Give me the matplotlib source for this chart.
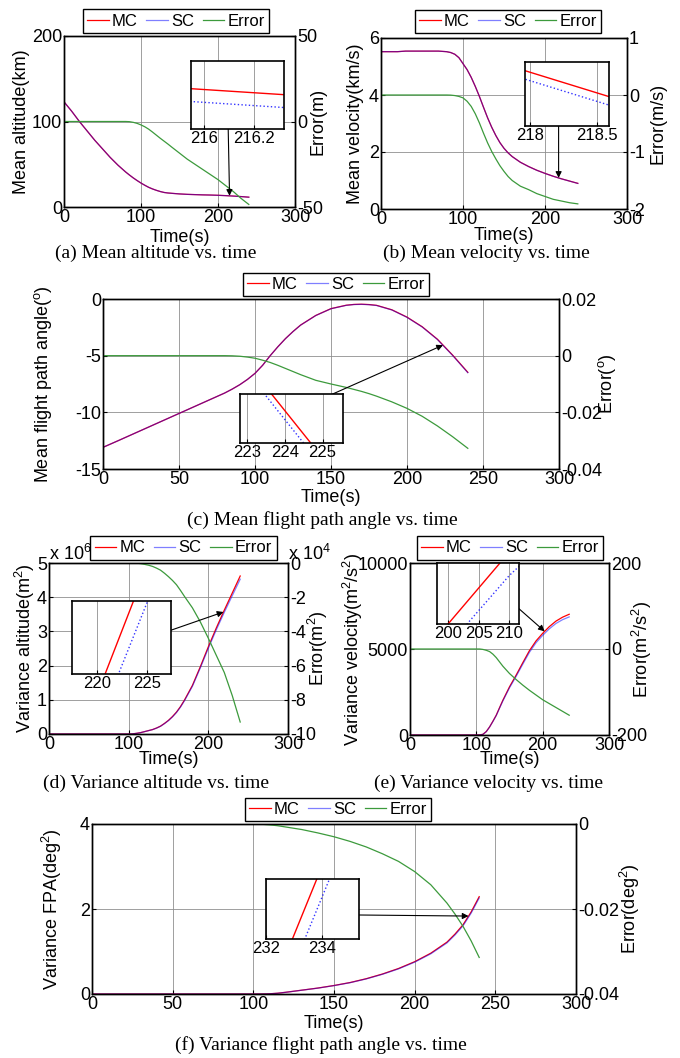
import numpy as np
import matplotlib
matplotlib.use("Agg")
import matplotlib.pyplot as plt

plt.rcParams['font.family'] = ['Liberation Sans', 'DejaVu Sans']
plt.rcParams['mathtext.default'] = 'regular'
plt.rcParams['axes.unicode_minus'] = False

# ---------------- data ----------------
# (a) mean altitude [km], error [m]
t_a = [0, 10, 20, 30, 40, 50, 60, 70, 80, 85, 90, 95, 100, 105, 110, 115, 120, 125,
       130, 135, 140, 150, 160, 170, 180, 190, 200, 210, 220, 230, 240]
alt_mc = [123, 112, 100, 89, 78, 68, 58, 49, 41, 37.4, 34, 30.9, 28, 25.4, 23, 21.1,
          19.5, 18.1, 17, 16.4, 16, 15.3, 14.8, 14.5, 14.2, 14.0, 13.7, 13.3, 12.8,
          12.2, 11.5]
alt_sc = [123, 112, 100, 89, 78, 68, 58, 49, 41, 37.3999, 33.9995, 30.8989, 27.998,
          25.3969, 22.9955, 21.0938, 19.492, 18.0902, 16.9885, 16.3868, 15.985,
          15.2815, 14.778, 14.475, 14.172, 13.969, 13.666, 13.2625, 12.759, 12.155,
          11.4515]
alt_err = [0, 0, 0, 0, 0, 0, 0, 0, 0, -0.1, -0.5, -1.1, -2, -3.1, -4.5, -6.2, -8,
           -9.8, -11.5, -13.2, -15, -18.5, -22, -25, -28, -31, -34, -37.5, -41, -45,
           -48.5]

# (b) mean velocity [km/s], error [m/s]
t_b = [0, 10, 20, 30, 40, 50, 60, 70, 80, 85, 90, 95, 100, 105, 110, 115, 120, 125,
       130, 135, 140, 145, 150, 155, 160, 170, 180, 190, 200, 210, 220, 230, 240]
vel_mc = [5.52, 5.52, 5.52, 5.54, 5.54, 5.54, 5.54, 5.54, 5.52, 5.49, 5.43, 5.31,
          5.10, 4.89, 4.62, 4.30, 3.95, 3.57, 3.20, 2.87, 2.58, 2.33, 2.13, 1.97,
          1.84, 1.64, 1.49, 1.36, 1.25, 1.15, 1.06, 0.98, 0.90]
vel_sc = [5.52, 5.52, 5.52, 5.54, 5.54, 5.54, 5.54, 5.54, 5.52, 5.489998, 5.42999,
          5.309975, 5.09995, 4.88989, 4.6198, 4.29967, 3.94951, 3.56933, 3.19916,
          2.86901, 2.57888, 2.32876, 2.12866, 1.96857, 1.8385, 1.6384, 1.48834,
          1.35827, 1.24822, 1.14817, 1.05814, 0.97811, 0.89809]
vel_err = [0, 0, 0, 0, 0, 0, 0, 0, 0, -0.002, -0.01, -0.025, -0.05, -0.11, -0.2,
           -0.33, -0.49, -0.67, -0.84, -0.99, -1.12, -1.24, -1.34, -1.43, -1.5, -1.6,
           -1.66, -1.73, -1.78, -1.83, -1.86, -1.89, -1.91]

# (c) mean flight path angle [deg], error [deg]
t_c = [0, 10, 20, 30, 40, 50, 60, 70, 80, 85, 90, 95, 100, 105, 110, 115, 120, 125,
       130, 140, 150, 160, 165, 170, 175, 180, 190, 200, 210, 220, 230, 240]
fpa_mc = [-13.09, -12.5, -11.9, -11.3, -10.7, -10.1, -9.5, -8.9, -8.3, -7.95, -7.56,
          -7.1, -6.56, -5.85, -5.0, -4.22, -3.5, -2.87, -2.3, -1.45, -0.85, -0.55,
          -0.48, -0.46, -0.49, -0.56, -0.95, -1.6, -2.45, -3.55, -4.95, -6.47]
fpa_sc = [-13.09, -12.5, -11.9, -11.3, -10.7, -10.1, -9.5, -8.9, -8.3, -7.95005,
          -7.5602, -7.1005, -6.5609, -5.8516, -5.0024, -4.2234, -3.5045, -2.8756,
          -2.3067, -1.4587, -0.86, -0.5612, -0.4919, -0.4726, -0.5034, -0.5743,
          -0.9663, -1.6186, -2.4714, -3.5748, -4.9786, -6.5027]
fpa_err = [0, 0, 0, 0, 0, 0, 0, 0, 0, -0.00005, -0.0002, -0.0005, -0.0009, -0.0016,
           -0.0024, -0.0034, -0.0045, -0.0056, -0.0067, -0.0087, -0.0100, -0.0112,
           -0.0119, -0.0126, -0.0134, -0.0143, -0.0163, -0.0186, -0.0214, -0.0248,
           -0.0286, -0.0327]

# (d) variance altitude [x1e6 m^2], error [x1e4 m^2]
t_d = [0, 10, 20, 30, 40, 50, 60, 70, 80, 90, 100, 105, 110, 115, 120, 125, 130, 135,
       140, 145, 150, 155, 160, 165, 170, 180, 190, 200, 210, 220, 230, 240]
valt_mc = [0, 0, 0, 0, 0, 0, 0, 0, 0, 0, 0, 0.005, 0.02, 0.04, 0.07, 0.10, 0.13,
           0.175, 0.23, 0.31, 0.40, 0.51, 0.64, 0.80, 0.99, 1.42, 1.97, 2.55, 3.10,
           3.62, 4.12, 4.62]
valt_sc = [0, 0, 0, 0, 0, 0, 0, 0, 0, 0, 0, 0.00498, 0.0199, 0.03965, 0.0692, 0.0987,
           0.128, 0.172, 0.2258, 0.304, 0.392, 0.4998, 0.6273, 0.784, 0.9705, 1.3938,
           1.9355, 2.506, 3.046, 3.556, 4.0425, 4.527]
valt_err = [0, 0, 0, 0, 0, 0, 0, 0, 0, 0, 0, -0.002, -0.01, -0.035, -0.08, -0.13,
            -0.2, -0.3, -0.42, -0.6, -0.8, -1.02, -1.27, -1.6, -1.95, -2.62, -3.45,
            -4.4, -5.4, -6.4, -7.75, -9.3]

# (e) variance velocity [m^2/s^2], error [m^2/s^2]
t_e = [0, 10, 20, 30, 40, 50, 60, 70, 80, 90, 100, 105, 110, 115, 120, 125, 130, 135,
       140, 150, 160, 170, 180, 190, 200, 210, 220, 230, 240]
vvel_mc = [0, 0, 0, 0, 0, 0, 0, 0, 0, 0, 0, 5, 40, 200, 470, 800, 1150, 1590, 2020,
           2800, 3480, 4200, 4900, 5470, 5910, 6300, 6620, 6850, 7020]
vvel_sc = [0, 0, 0, 0, 0, 0, 0, 0, 0, 0, 0, 5, 39, 197, 464, 788, 1130, 1560, 1980,
           2743, 3409, 4116, 4804, 5363, 5792, 6173, 6484, 6705, 6866]
vvel_err = [0, 0, 0, 0, 0, 0, 0, 0, 0, 0, 0, 0, -1, -3, -6, -12, -20, -30, -40, -57,
            -71, -84, -96, -107, -118, -127, -136, -145, -154]

# (f) variance FPA [deg^2], error [deg^2]
t_f = [0, 10, 20, 30, 40, 50, 60, 70, 80, 90, 100, 105, 110, 115, 120, 125, 130, 140,
       150, 160, 170, 180, 190, 200, 210, 220, 225, 230, 235, 240]
vfpa_mc = [0, 0, 0, 0, 0, 0, 0, 0, 0, 0, 0, 0.001, 0.005, 0.018, 0.04, 0.065, 0.09,
           0.14, 0.20, 0.27, 0.36, 0.47, 0.60, 0.76, 0.96, 1.22, 1.41, 1.63, 1.93, 2.29]
vfpa_sc = [0, 0, 0, 0, 0, 0, 0, 0, 0, 0, 0, 0.00095, 0.0048, 0.0176, 0.0393, 0.064,
           0.0887, 0.1379, 0.197, 0.2659, 0.3546, 0.463, 0.5912, 0.7488, 0.9457,
           1.2014, 1.3888, 1.6059, 1.9025, 2.2586]
vfpa_err = [0, 0, 0, 0, 0, 0, 0, 0, 0, 0, 0, -0.00005, -0.0002, -0.0004, -0.0007,
            -0.001, -0.0013, -0.0021, -0.003, -0.0041, -0.0054, -0.007, -0.0088,
            -0.0112, -0.0143, -0.0186, -0.0212, -0.0241, -0.0275, -0.0314]

series_labels = ['MC', 'SC', 'Error']

# ---------------- figure ----------------
FW, FH = 680, 1058
fig = plt.figure(figsize=(FW / 100, FH / 100), dpi=100)

RED = '#ff0000'
BLUE = '#0000ff'
GREEN = '#3c9a3c'
FS = 13
FS_INSET = 12


def rect(x0, y0, x1, y1):
    return [x0 / FW, 1 - y1 / FH, (x1 - x0) / FW, (y1 - y0) / FH]


def fmt(v):
    return f'{v:g}'


def panel(box, t, mc, sc, err, ylim, yticks, y2lim, y2ticks, xticks, ylabel, y2label,
          lab_px, leg_px, ins_box, ins_xlim, ins_xticks, ins_tc, ins_h, ins_frac,
          arrow_from, arrow_t, caption, cap_px):
    x0, y0, x1, y1 = box
    ax = fig.add_axes(rect(*box))
    ax2 = ax.twinx()
    l1, = ax.plot(t, mc, color=RED, lw=0.9)
    l2, = ax.plot(t, sc, color=BLUE, lw=0.9, alpha=0.5)
    l3, = ax2.plot(t, err, color=GREEN, lw=0.9)
    ax.set_xlim(0, 300)
    ax.set_xticks(xticks, [fmt(v) for v in xticks])
    ax.set_ylim(*ylim)
    ax.set_yticks(yticks, [fmt(v) for v in yticks])
    ax2.set_ylim(*y2lim)
    ax2.set_yticks(y2ticks, [fmt(v) for v in y2ticks])
    ax.grid(True, color='#8f8f8f', lw=0.6)
    ax.set_axisbelow(True)
    for a in (ax, ax2):
        a.tick_params(direction='in', length=3, width=0.8, pad=1.5, labelsize=FS)
        for s in a.spines.values():
            s.set_linewidth(1.0)
    lx, rx, xy = lab_px
    w, h = x1 - x0, y1 - y0
    ax.set_ylabel(ylabel, fontsize=FS)
    ax.yaxis.set_label_coords((lx - x0) / w, 0.5)
    ax.yaxis.label.set_va('center')
    ax2.set_ylabel(y2label, fontsize=FS)
    ax2.yaxis.set_label_coords((rx - x0) / w, 0.5)
    ax2.yaxis.label.set_va('center')
    ax.set_xlabel('Time(s)', fontsize=FS)
    ax.xaxis.set_label_coords(0.5, (y1 - xy) / h)
    ax.xaxis.label.set_va('center')
    leg = fig.legend([l1, l2, l3], series_labels, loc='center',
                     bbox_to_anchor=(leg_px[0] / FW, 1 - leg_px[1] / FH), ncol=3,
                     fontsize=12, handlelength=1.3, handletextpad=0.2,
                     columnspacing=0.5, borderpad=0.25, borderaxespad=0,
                     fancybox=False, framealpha=1, edgecolor='black')
    leg.get_frame().set_linewidth(1.0)
    # inset
    axi = fig.add_axes(rect(*ins_box))
    axi.plot(t, mc, color=RED, lw=1.0)
    axi.plot(t, sc, color=BLUE, lw=1.0, ls=':', alpha=0.8)
    axi.set_xlim(*ins_xlim)
    axi.set_xticks(ins_xticks, [fmt(v) for v in ins_xticks])
    axi.set_yticks([])
    yc = np.interp(ins_tc, t, mc)
    axi.set_ylim(yc - ins_frac * ins_h, yc + (1 - ins_frac) * ins_h)
    axi.grid(True, axis='x', color='#8f8f8f', lw=0.6)
    axi.tick_params(direction='in', length=3, pad=1.5, labelsize=FS_INSET)
    for s in axi.spines.values():
        s.set_linewidth(1.2)
    ax2.annotate('', xy=(arrow_t, np.interp(arrow_t, t, mc)), xycoords=ax.transData,
                 xytext=arrow_from, textcoords=axi,
                 arrowprops=dict(arrowstyle='-|>', color='black', lw=0.8,
                                 mutation_scale=9, shrinkA=0, shrinkB=0),
                 annotation_clip=False)
    fig.text(cap_px[0] / FW, 1 - cap_px[1] / FH, caption, ha='center', va='center',
             family=['Liberation Serif', 'DejaVu Serif'], fontsize=14)
    return ax, ax2


# (a)
panel((64, 36, 295, 207), t_a, alt_mc, alt_sc, alt_err, (0, 200), [0, 100, 200],
      (-50, 50), [-50, 0, 50], [0, 100, 200, 300],
      'Mean altitude(km)', 'Error(m)', (22, 318, 237), (176, 21),
      (191, 61, 284, 129), (215.95, 216.32), [216, 216.2], 216.13, 0.21, 0.55,
      (0.40, 0.0), 215, '(a) Mean altitude vs. time', (156, 253))

# (b)
panel((381, 38, 627, 209), t_b, vel_mc, vel_sc, vel_err, (0, 6), [0, 2, 4, 6],
      (-2, 1), [-2, -1, 0, 1], [0, 100, 200, 300],
      'Mean velocity(km/s)', 'Error(m/s)', (355, 658, 235), (508, 21.5),
      (525, 62, 609, 126), (217.96, 218.59), [218, 218.5], 218.27, 0.014, 0.665,
      (0.40, 0.0), 216.6, '(b) Mean velocity vs. time', (486, 253))

# (c)
panel((103, 299, 559, 469), t_c, fpa_mc, fpa_sc, fpa_err, (-15, 0),
      [-15, -10, -5, 0], (-0.04, 0.02), [-0.04, -0.02, 0, 0.02],
      [0, 50, 100, 150, 200, 250, 300],
      'Mean flight path angle($^o$)', 'Error($^o$)', (43, 607, 498), (336, 284.5),
      (240, 394, 343, 443), (222.82, 225.54), [223, 224, 225], 224.17, 0.145, 0.5,
      (0.90, 1.0), 223.7, '(c) Mean flight path angle vs. time', (322, 520))

# (d)
panel((49, 563, 288, 734), t_d, valt_mc, valt_sc, valt_err, (0, 5),
      [0, 1, 2, 3, 4, 5], (-10, 0), [-10, -8, -6, -4, -2, 0], [0, 100, 200, 300],
      'Variance altitude(m$^2$)', 'Error(m$^2$)', (25, 318, 760), (183.5, 548),
      (72, 601, 171, 674), (217.5, 227.4), [220, 225], 222.23, 0.142, 0.5,
      (1.0, 0.6), 219, '(d) Variance altitude vs. time', (156, 783))
fig.text(49 / FW, 1 - 554 / FH, 'x 10$^{6}$', ha='left', va='center', fontsize=FS)
fig.text(288 / FW, 1 - 554 / FH, 'x 10$^{4}$', ha='left', va='center', fontsize=FS)

# (e)
panel((410, 563, 609, 735), t_e, vvel_mc, vvel_sc, vvel_err, (0, 10000),
      [0, 5000, 10000], (-200, 200), [-200, 0, 200], [0, 100, 200, 300],
      'Variance velocity(m$^2$/s$^2$)', 'Error(m$^2$/s$^2$)', (353, 642, 760),
      (510, 548), (437, 563, 519, 624), (198.2, 211.6), [200, 205, 210], 204.25,
      331, 0.5, (1.0, 0.25), 203, '(e) Variance velocity vs. time', (489, 783))

# (f)
panel((92, 824, 576, 994), t_f, vfpa_mc, vfpa_sc, vfpa_err, (0, 4), [0, 2, 4],
      (-0.04, 0), [-0.04, -0.02, 0], [0, 50, 100, 150, 200, 250, 300],
      'Variance FPA(deg$^2$)', 'Error(deg$^2$)', (52, 630, 1023), (338, 809.5),
      (266, 879, 359, 939), (232, 235.3), [232, 234], 233.37, 0.052, 0.5,
      (1.0, 0.4), 233.4, '(f) Variance flight path angle vs. time', (321, 1045))

fig.savefig('out.png', dpi=100)
